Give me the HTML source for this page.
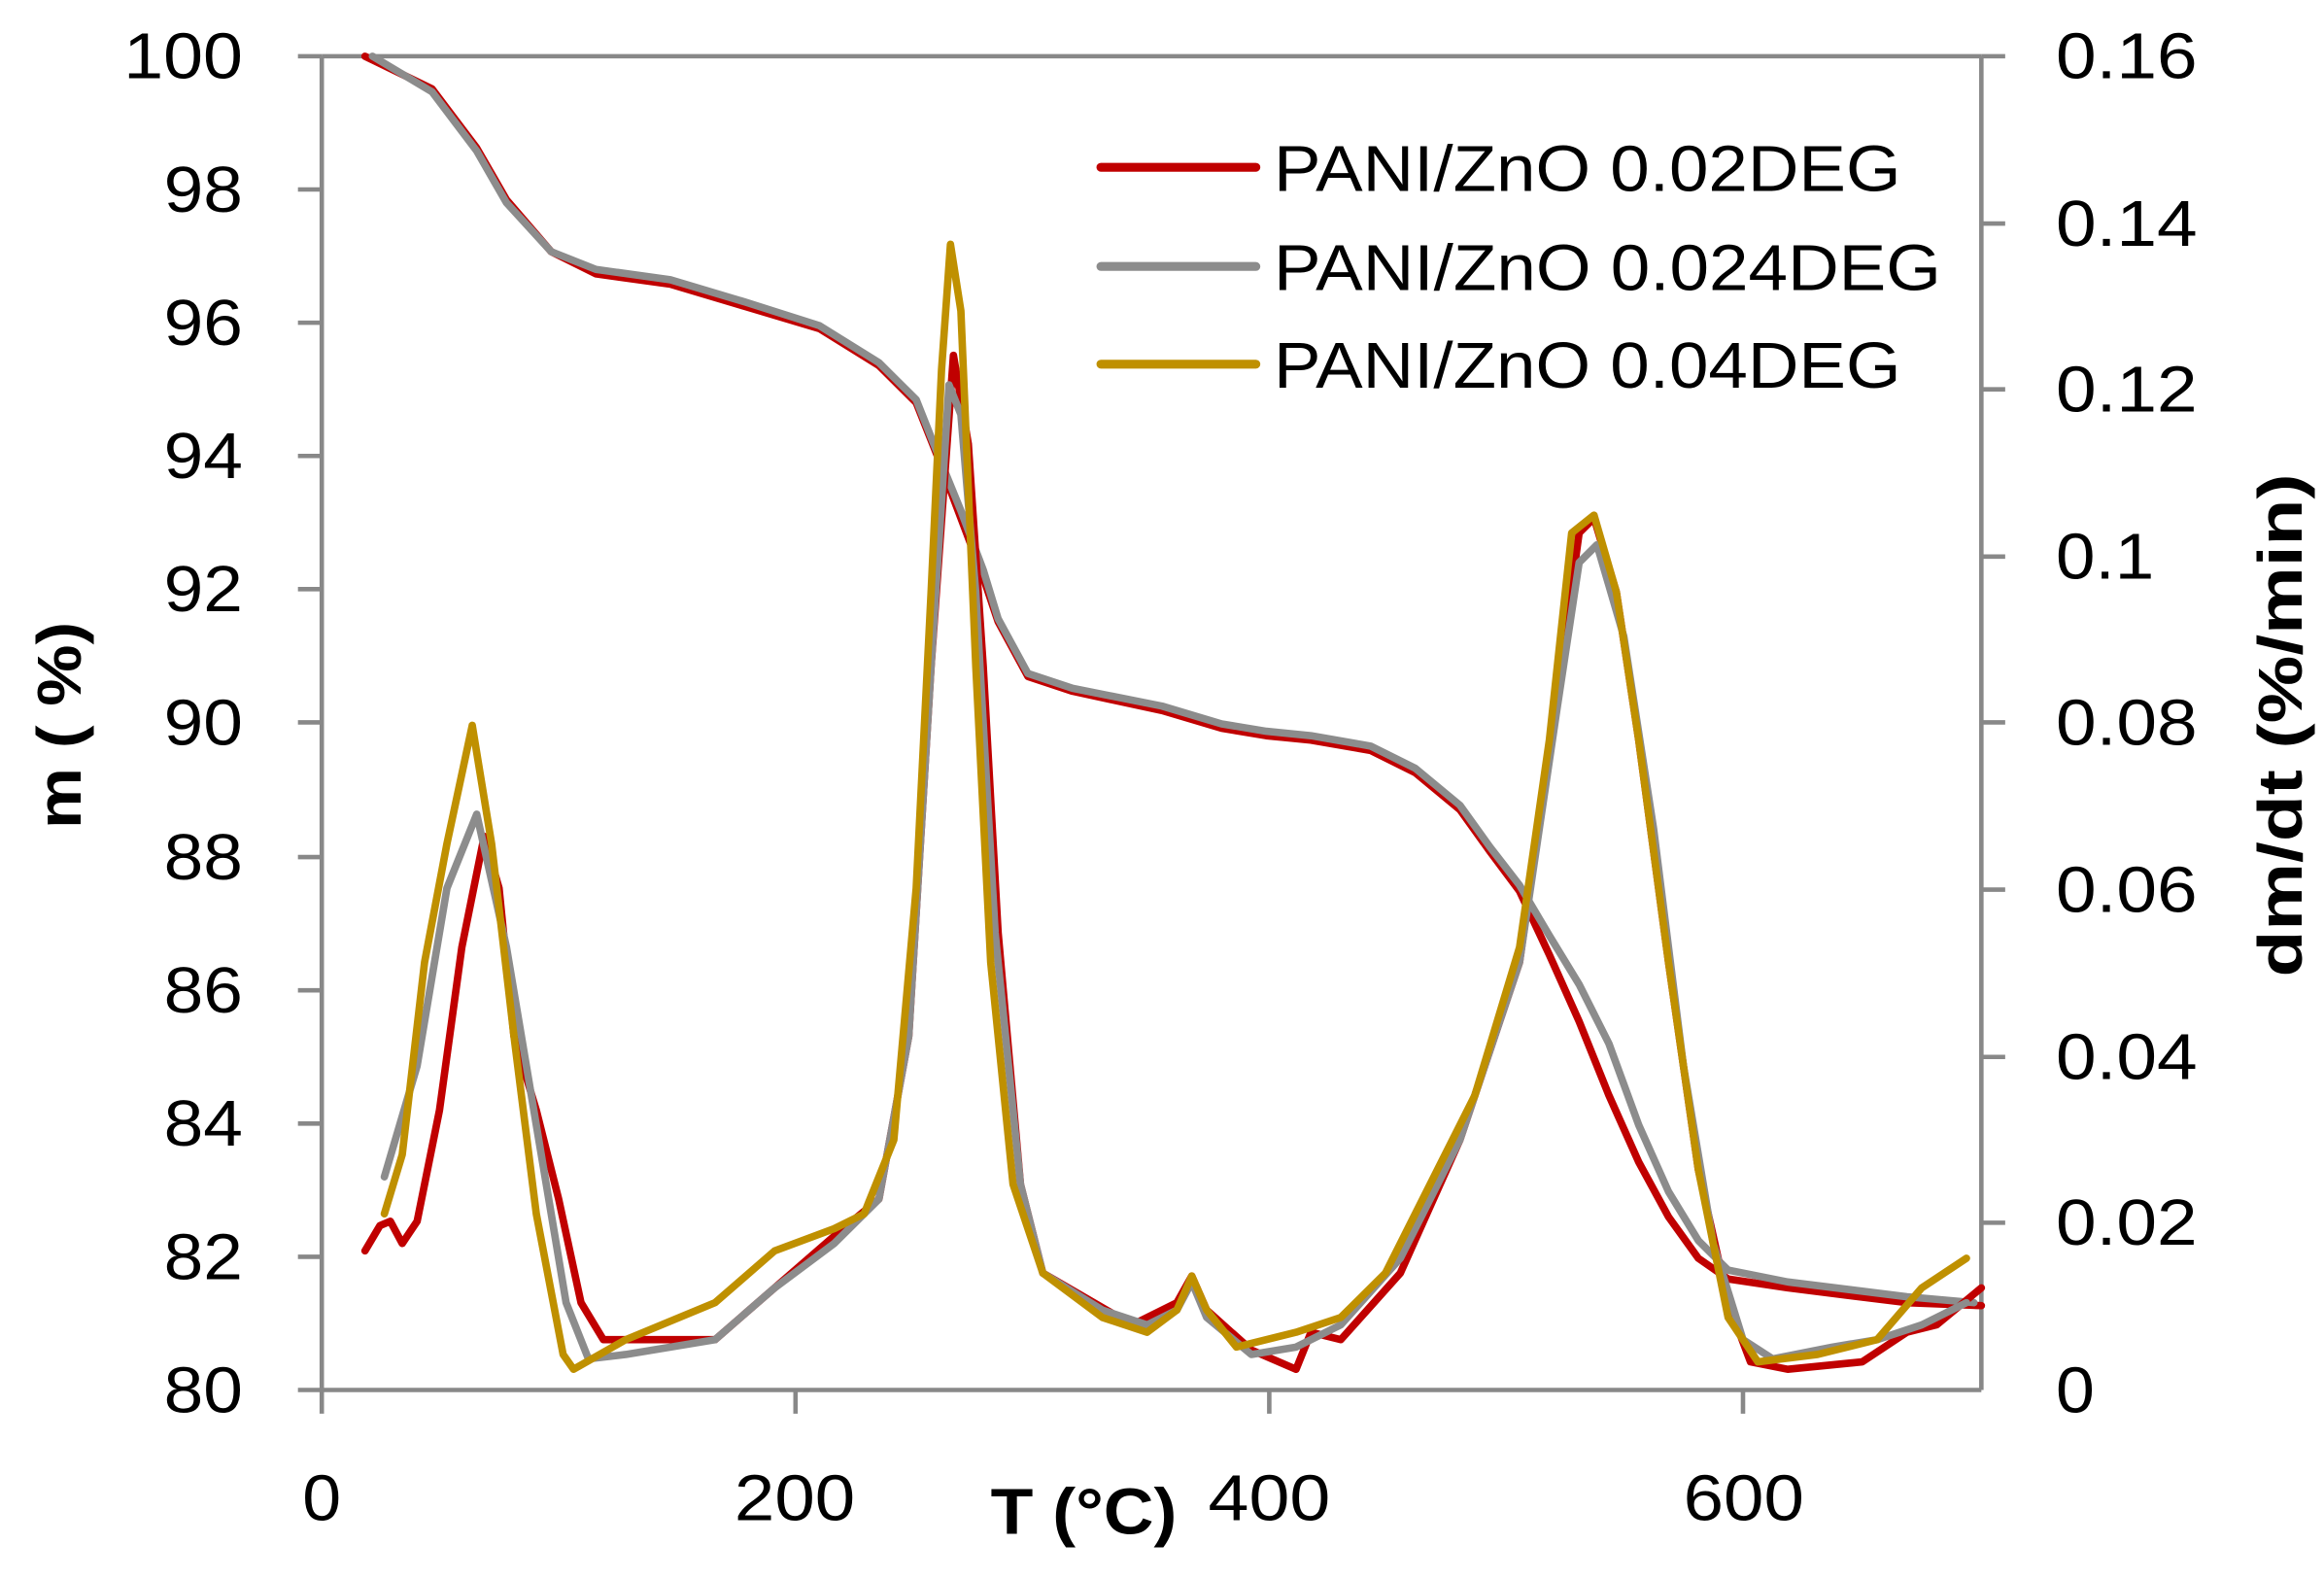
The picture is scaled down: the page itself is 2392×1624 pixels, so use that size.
<!DOCTYPE html>
<html><head><meta charset="utf-8"><style>
html,body{margin:0;padding:0;background:#fff;}
svg{display:block;}
text{font-family:"Liberation Sans",sans-serif;fill:#000;}
</style></head><body>
<svg width="2392" height="1624" viewBox="0 0 1560 1066" preserveAspectRatio="none" xmlns="http://www.w3.org/2000/svg">
<rect width="1560" height="1066" fill="#fff"/>
<g stroke="#888" stroke-width="3" fill="none">
<line x1="216" y1="38" x2="216" y2="955"/>
<line x1="200" y1="939" x2="1330" y2="939"/>
<line x1="1330" y1="38" x2="1330" y2="939"/>
<line x1="216" y1="38" x2="1330" y2="38"/>
<line x1="200" y1="38" x2="216" y2="38"/>
<line x1="200" y1="128" x2="216" y2="128"/>
<line x1="200" y1="218" x2="216" y2="218"/>
<line x1="200" y1="308" x2="216" y2="308"/>
<line x1="200" y1="398" x2="216" y2="398"/>
<line x1="200" y1="488" x2="216" y2="488"/>
<line x1="200" y1="579" x2="216" y2="579"/>
<line x1="200" y1="669" x2="216" y2="669"/>
<line x1="200" y1="759" x2="216" y2="759"/>
<line x1="200" y1="849" x2="216" y2="849"/>
<line x1="534" y1="939" x2="534" y2="955"/>
<line x1="852" y1="939" x2="852" y2="955"/>
<line x1="1170" y1="939" x2="1170" y2="955"/>
<line x1="1330" y1="38" x2="1346" y2="38"/>
<line x1="1330" y1="151" x2="1346" y2="151"/>
<line x1="1330" y1="263" x2="1346" y2="263"/>
<line x1="1330" y1="376" x2="1346" y2="376"/>
<line x1="1330" y1="488" x2="1346" y2="488"/>
<line x1="1330" y1="601" x2="1346" y2="601"/>
<line x1="1330" y1="714" x2="1346" y2="714"/>
<line x1="1330" y1="826" x2="1346" y2="826"/>
</g>
<g font-size="44">
<text x="83" y="53" textLength="80" lengthAdjust="spacingAndGlyphs">100</text>
<text x="110" y="143" textLength="53" lengthAdjust="spacingAndGlyphs">98</text>
<text x="110" y="233" textLength="53" lengthAdjust="spacingAndGlyphs">96</text>
<text x="110" y="323" textLength="53" lengthAdjust="spacingAndGlyphs">94</text>
<text x="110" y="413" textLength="53" lengthAdjust="spacingAndGlyphs">92</text>
<text x="110" y="503" textLength="53" lengthAdjust="spacingAndGlyphs">90</text>
<text x="110" y="594" textLength="53" lengthAdjust="spacingAndGlyphs">88</text>
<text x="110" y="684" textLength="53" lengthAdjust="spacingAndGlyphs">86</text>
<text x="110" y="774" textLength="53" lengthAdjust="spacingAndGlyphs">84</text>
<text x="110" y="864" textLength="53" lengthAdjust="spacingAndGlyphs">82</text>
<text x="110" y="954" textLength="53" lengthAdjust="spacingAndGlyphs">80</text>
<text x="1380" y="53" textLength="95" lengthAdjust="spacingAndGlyphs">0.16</text>
<text x="1380" y="166" textLength="95" lengthAdjust="spacingAndGlyphs">0.14</text>
<text x="1380" y="278" textLength="95" lengthAdjust="spacingAndGlyphs">0.12</text>
<text x="1380" y="391" textLength="66" lengthAdjust="spacingAndGlyphs">0.1</text>
<text x="1380" y="503" textLength="95" lengthAdjust="spacingAndGlyphs">0.08</text>
<text x="1380" y="616" textLength="95" lengthAdjust="spacingAndGlyphs">0.06</text>
<text x="1380" y="729" textLength="95" lengthAdjust="spacingAndGlyphs">0.04</text>
<text x="1380" y="841" textLength="95" lengthAdjust="spacingAndGlyphs">0.02</text>
<text x="1380" y="954" textLength="26" lengthAdjust="spacingAndGlyphs">0</text>
<text x="203" y="1027" textLength="26" lengthAdjust="spacingAndGlyphs">0</text>
<text x="493" y="1027" textLength="81" lengthAdjust="spacingAndGlyphs">200</text>
<text x="811" y="1027" textLength="82" lengthAdjust="spacingAndGlyphs">400</text>
<text x="1130" y="1027" textLength="81" lengthAdjust="spacingAndGlyphs">600</text>
</g>
<text x="665" y="1036" font-size="44" font-weight="bold" textLength="125" lengthAdjust="spacingAndGlyphs">T (°C)</text>
<text transform="translate(54,560) rotate(-90)" font-size="42" font-weight="bold" textLength="140" lengthAdjust="spacingAndGlyphs">m ( %)</text>
<text transform="translate(1545,660) rotate(-90)" font-size="42" font-weight="bold" textLength="340" lengthAdjust="spacingAndGlyphs">dm/dt (%/min)</text>
<g fill="none" stroke-width="5" stroke-linejoin="round" stroke-linecap="round">
<polyline stroke="#c00000" points="245,38 290,60 320,100 340,135 370,170 400,185 450,192 500,207 550,222 590,247 615,272 630,310 645,350 660,390 670,420 690,457 720,467 780,480 820,492 850,497 880,500 920,507 950,522 980,547 1000,575 1020,602 1040,645 1060,690 1080,740 1100,785 1120,822 1140,850 1160,864 1200,870 1280,880 1330,882"/>
<polyline stroke="#8c8c8c" points="250,38 290,62 320,102 340,137 370,170 400,182 450,189 500,204 550,220 590,245 615,270 630,308 645,345 660,385 670,418 690,455 720,465 780,477 820,489 850,494 880,497 920,504 950,519 980,544 1000,572 1020,598 1040,632 1060,665 1080,705 1100,760 1120,805 1140,838 1160,858 1200,866 1280,876 1325,880"/>
<polyline stroke="#c00000" points="245,845 255,828 262,825 270,840 280,825 295,750 310,640 325,565 335,600 345,700 360,750 375,810 390,880 405,905 440,905 480,905 520,870 560,835 590,810 610,700 625,450 640,240 650,300 660,450 670,630 685,800 700,860 760,895 790,880 800,862 810,885 840,912 870,925 880,900 900,905 940,860 980,770 1020,650 1045,470 1060,360 1070,350 1085,400 1100,500 1120,650 1140,790 1160,880 1175,920 1200,925 1250,920 1280,900 1300,895 1330,870"/>
<polyline stroke="#8c8c8c" points="258,795 280,720 300,600 320,550 340,640 360,760 380,880 395,918 420,915 480,905 520,870 560,840 590,810 610,700 625,450 637,260 645,280 655,400 668,630 685,800 700,860 740,885 770,895 790,885 800,866 810,890 840,915 870,910 900,895 940,850 980,770 1020,650 1045,480 1060,380 1072,368 1090,430 1110,560 1130,720 1150,840 1170,905 1190,918 1230,910 1260,905 1290,895 1320,880"/>
<polyline stroke="#bf9000" points="258,820 270,780 285,650 300,570 317,490 330,570 345,700 360,820 378,915 385,925 420,905 480,880 520,845 560,830 580,820 600,770 615,600 625,400 632,250 638,165 645,210 655,450 665,650 680,800 700,860 740,890 770,900 790,885 800,862 810,885 830,910 870,900 900,890 930,860 960,800 990,740 1020,640 1040,500 1055,360 1070,348 1085,400 1100,500 1120,650 1140,790 1160,890 1180,920 1220,915 1260,905 1290,870 1320,850"/>
</g>
<g stroke-width="6" stroke-linecap="round">
<line x1="739" y1="113" x2="843" y2="113" stroke="#c00000"/>
<line x1="739" y1="180" x2="843" y2="180" stroke="#8c8c8c"/>
<line x1="739" y1="246" x2="843" y2="246" stroke="#bf9000"/>
</g>
<g font-size="44">
<text x="855" y="129" textLength="421" lengthAdjust="spacingAndGlyphs">PANI/ZnO 0.02DEG</text>
<text x="855" y="196" textLength="448" lengthAdjust="spacingAndGlyphs">PANI/ZnO 0.024DEG</text>
<text x="855" y="262" textLength="421" lengthAdjust="spacingAndGlyphs">PANI/ZnO 0.04DEG</text>
</g>
</svg>
</body></html>
